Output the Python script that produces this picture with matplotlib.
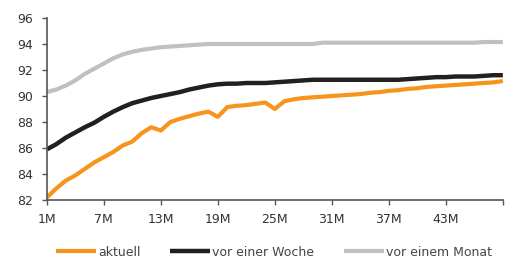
import matplotlib
matplotlib.use("Agg")
import matplotlib.pyplot as plt
import numpy as np

months = list(range(1, 50))
tick_labels = ["1M", "7M", "13M", "19M", "25M", "31M", "37M", "43M", ""]

aktuell = [82.2, 82.9, 83.5, 83.9, 84.4, 84.9, 85.3, 85.7, 86.2, 86.5,
           87.15, 87.6, 87.35, 88.0, 88.25, 88.45, 88.65, 88.8, 88.4, 89.15,
           89.25, 89.3, 89.4, 89.5, 89.0, 89.6, 89.75, 89.85, 89.9, 89.95,
           90.0, 90.05, 90.1, 90.15, 90.25, 90.3, 90.4, 90.45, 90.55, 90.6,
           90.7, 90.75, 90.8, 90.85, 90.9, 90.95, 91.0, 91.05, 91.15]
vor_woche = [85.9, 86.3, 86.8, 87.2, 87.6, 87.95, 88.4, 88.8, 89.15, 89.45,
             89.65, 89.85, 90.0, 90.15, 90.3, 90.5, 90.65, 90.8, 90.9, 90.95,
             90.95, 91.0, 91.0, 91.0, 91.05, 91.1, 91.15, 91.2, 91.25, 91.25,
             91.25, 91.25, 91.25, 91.25, 91.25, 91.25, 91.25, 91.25, 91.3, 91.35,
             91.4, 91.45, 91.45, 91.5, 91.5, 91.5, 91.55, 91.6, 91.6]
vor_monat = [90.3, 90.5, 90.8, 91.2, 91.7, 92.1, 92.5, 92.9, 93.2, 93.4,
             93.55, 93.65, 93.75, 93.8, 93.85, 93.9, 93.95, 94.0, 94.0, 94.0,
             94.0, 94.0, 94.0, 94.0, 94.0, 94.0, 94.0, 94.0, 94.0, 94.1,
             94.1, 94.1, 94.1, 94.1, 94.1, 94.1, 94.1, 94.1, 94.1, 94.1,
             94.1, 94.1, 94.1, 94.1, 94.1, 94.1, 94.15, 94.15, 94.15]

plt.rcParams["font.family"] = ["DejaVu Sans"]

fig = plt.figure(figsize=(5.2, 2.64), dpi=100)
ax = fig.add_axes([0.090, 0.242, 0.877, 0.690])

ax.plot(months, vor_monat, color="#C0C0C0", lw=3.0, label="vor einem Monat", solid_capstyle="butt")
ax.plot(months, vor_woche, color="#231F20", lw=3.2, label="vor einer Woche", solid_capstyle="butt")
ax.plot(months, aktuell, color="#F7941D", lw=3.0, label="aktuell", solid_capstyle="butt")

ax.set_xlim(1, 49)
ax.set_ylim(82, 96)
ax.set_yticks(np.arange(82, 97, 2))
ax.set_xticks(list(range(1, 50, 6)))
ax.set_xticklabels(tick_labels)

for s in ["top", "right"]:
    ax.spines[s].set_visible(False)
for s in ["left", "bottom"]:
    ax.spines[s].set_color("#555555")
    ax.spines[s].set_linewidth(1.2)
ax.tick_params(axis="both", colors="#555555", labelcolor="#333333", labelsize=9,
               length=3.6, width=1.0, direction="out")
ax.tick_params(axis="x", pad=6)
ax.tick_params(axis="y", pad=6)

handles, labels = ax.get_legend_handles_labels()
order = [2, 1, 0]
fig.legend([handles[i] for i in order], [labels[i] for i in order],
           loc="center", bbox_to_anchor=(0.527, 0.045), ncol=3, frameon=False,
           fontsize=9, handlelength=3.2, handletextpad=0.15, columnspacing=2.4,
           labelcolor="#444444")

fig.savefig("out.png", dpi=100)
